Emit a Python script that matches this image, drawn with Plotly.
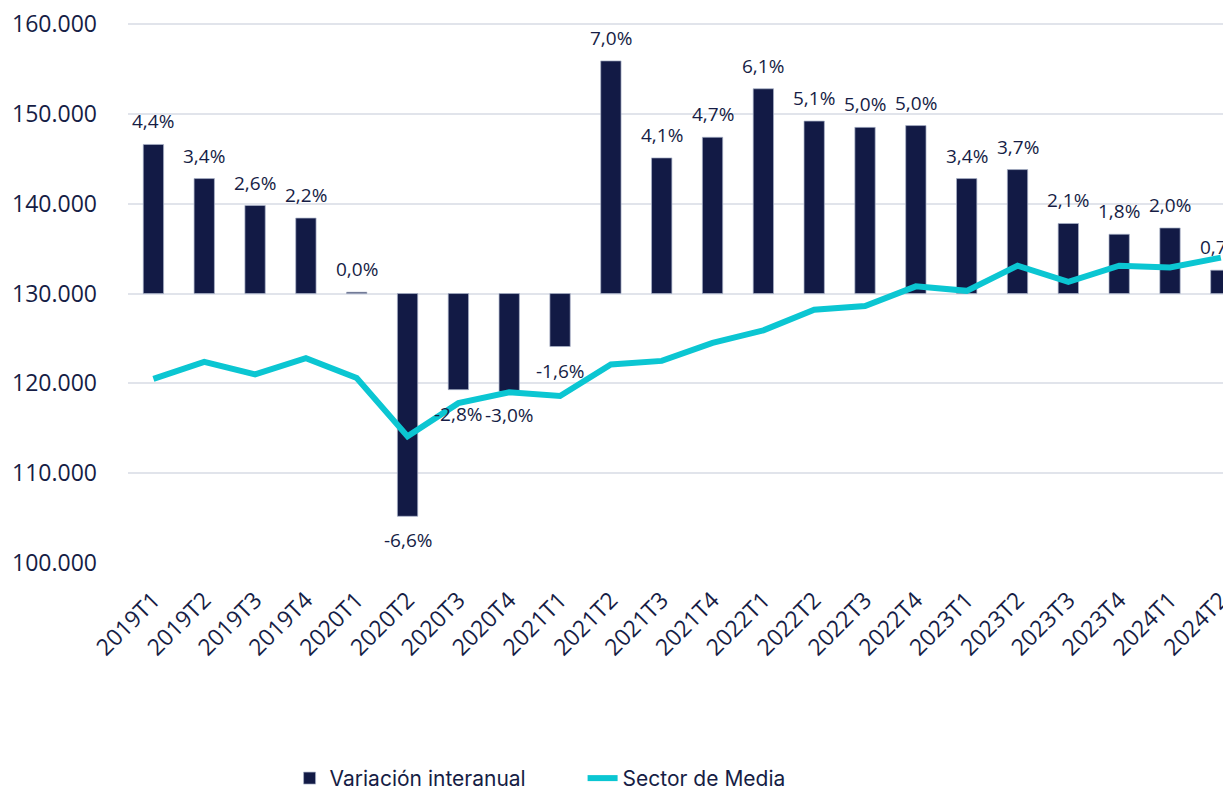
import plotly.graph_objects as go

categories = ["2019T1", "2019T2", "2019T3", "2019T4", "2020T1", "2020T2", "2020T3", "2020T4",
              "2021T1", "2021T2", "2021T3", "2021T4", "2022T1", "2022T2", "2022T3", "2022T4",
              "2023T1", "2023T2", "2023T3", "2023T4", "2024T1", "2024T2"]

# Bar ends (bars drawn from the 130.000 baseline)
bar_values = [146600, 142800, 139800, 138400, 130150, 105200, 119300, 119100,
              124100, 155900, 145100, 147400, 152800, 149200, 148500, 148700,
              142800, 143800, 137800, 136600, 137300, 132600]
bar_labels = ["4,4%", "3,4%", "2,6%", "2,2%", "0,0%", "-6,6%", "-2,8%", "-3,0%",
              "-1,6%", "7,0%", "4,1%", "4,7%", "6,1%", "5,1%", "5,0%", "5,0%",
              "3,4%", "3,7%", "2,1%", "1,8%", "2,0%", "0,7%"]
sector_media = [120500, 122400, 121000, 122800, 120600, 114100, 117800, 119000,
                118600, 122100, 122500, 124500, 125900, 128200, 128600, 130800,
                130300, 133100, 131300, 133100, 132900, 134000]
baseline = 130000

navy = "#121a45"
cyan = "#0bc6d2"
text_col = "#161d45"

fig = go.Figure()
fig.add_trace(go.Bar(
    x=categories,
    y=[v - baseline for v in bar_values],
    base=baseline,
    name="Variación interanual",
    marker=dict(color=navy, line=dict(color="rgba(170,178,200,0.9)", width=0.8)),
    width=0.4,
    hoverinfo="skip",
))
fig.add_trace(go.Scatter(
    x=categories,
    y=sector_media,
    mode="lines",
    name="Sector de Media",
    line=dict(color=cyan, width=6),
))

for c, v, t in zip(categories, bar_values, bar_labels):
    up = v >= baseline
    fig.add_annotation(
        x=c, y=v, text=t, showarrow=False,
        yshift=23 if up else -24,
        font=dict(family="Open Sans", size=19, color=text_col),
    )

# page body has an 8px default margin, so the figure is sized to fill the window
fig.update_layout(
    width=1223, height=784,
    margin=dict(l=120, r=0, t=15, b=229, autoexpand=False),
    plot_bgcolor="white", paper_bgcolor="white",
    separators=",.",
    font=dict(family="Open Sans", color=text_col, size=20),
    showlegend=True,
    legend=dict(
        orientation="h", x=0.1465, xanchor="left", y=-0.399, yanchor="middle",
        font=dict(family="Inter", size=21, color=text_col),
        itemwidth=30, traceorder="normal",
        entrywidth=248,
    ),
)
fig.update_xaxes(
    range=[-0.5, 21.2],
    tickangle=-45,
    tickfont=dict(family="Open Sans", size=23, color=text_col),
    showgrid=False, showline=False, ticks="",
    automargin=False,
    ticklabelstandoff=18,
    ticklabeloverflow="allow",
)
fig.update_yaxes(
    range=[100000, 160120],
    tickvals=[100000, 110000, 120000, 130000, 140000, 150000, 160000],
    tickformat=",d",
    tickfont=dict(family="Open Sans", size=23, color=text_col),
    showgrid=True, gridcolor="#e1e4eb", gridwidth=1.5,
    zeroline=False, showline=False, ticks="",
    ticklabelstandoff=30,
    automargin=False,
    ticklabeloverflow="allow",
)

fig.write_html("out.html")
